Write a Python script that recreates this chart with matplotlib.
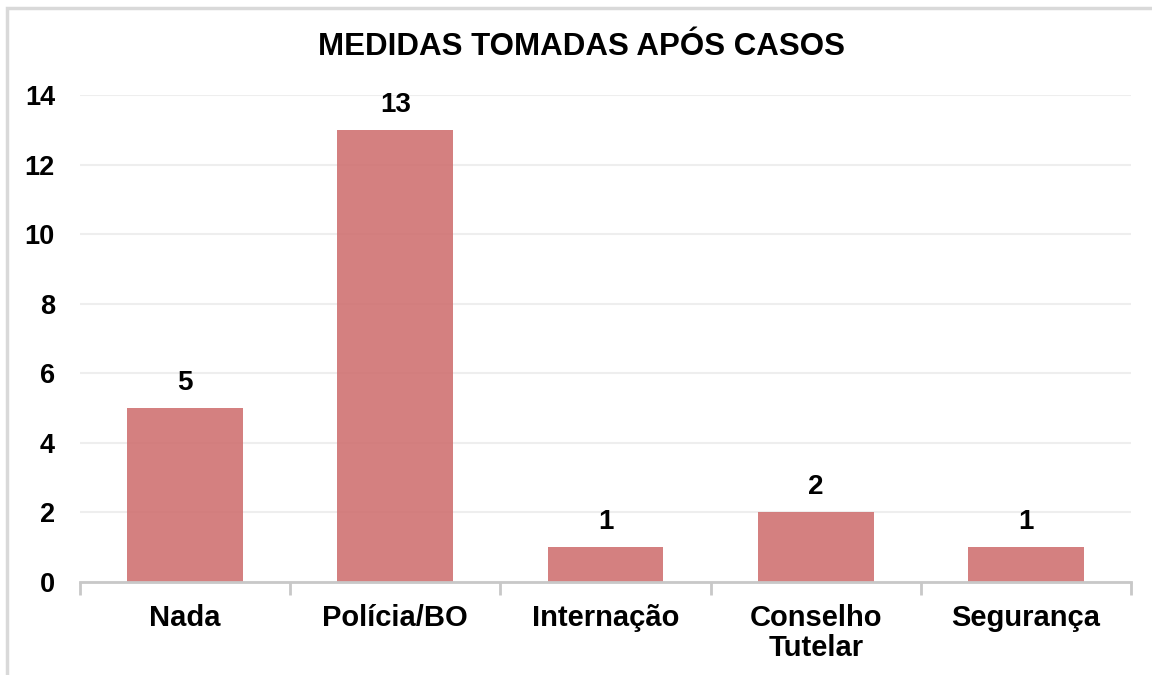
import matplotlib
matplotlib.use("Agg")
import matplotlib.pyplot as plt
from matplotlib.patches import Rectangle

categories = ["Nada", "Polícia/BO", "Internação", "Conselho\nTutelar", "Segurança"]
values = [5, 13, 1, 2, 1]
yticks = [0, 2, 4, 6, 8, 10, 12, 14]
title = "MEDIDAS TOMADAS APÓS CASOS"

plt.rcParams['font.family'] = ['Liberation Sans', 'DejaVu Sans']
plt.rcParams['font.weight'] = 'bold'

fig = plt.figure(figsize=(11.52, 6.75), dpi=100)
ax = fig.add_axes([80/1152, 93/675, (1131-80)/1152, (582-95)/675])

x = list(range(len(categories)))
ax.bar(x, values, width=0.55, color='#CD6A6A', alpha=0.85, zorder=2)
for xi, v in zip(x, values):
    ax.text(xi, v + 0.35, str(v), ha='center', va='bottom', fontsize=20, fontweight='bold')

ax.set_xlim(-0.5, len(categories) - 0.5)
ax.set_ylim(0, 14)
ax.set_yticks(yticks)
ax.set_yticklabels([str(t) for t in yticks], fontsize=19.5, fontweight='bold')
ax.tick_params(axis='y', length=0, pad=18)
ax.set_xticks(x)
ax.set_xticklabels(categories, fontsize=21, fontweight='bold', linespacing=1.1)
ax.tick_params(axis='x', length=0, pad=16)
ax.set_xticks([i - 0.5 for i in range(len(categories) + 1)], minor=True)
ax.tick_params(axis='x', which='minor', length=9, width=2, color='#C8C8C8', direction='out')
ax.grid(axis='y', color='#EEEEEE', linewidth=1.5, zorder=1)
ax.set_axisbelow(True)
for s in ['top', 'right', 'left']:
    ax.spines[s].set_visible(False)
ax.spines['bottom'].set_color('#C8C8C8')
ax.spines['bottom'].set_linewidth(2)
ax.spines['bottom'].set_zorder(3)

fig.text(581/1152, 1 - 47/675, title, ha='center', va='center', fontsize=22.5, fontweight='bold')

border = Rectangle((7/1152, -0.02), 1.05, 1 - 8/675 + 0.02, transform=fig.transFigure,
                   fill=False, edgecolor='#D9D9D9', linewidth=2.5)
fig.patches.append(border)

fig.savefig("out.png", dpi=100)
